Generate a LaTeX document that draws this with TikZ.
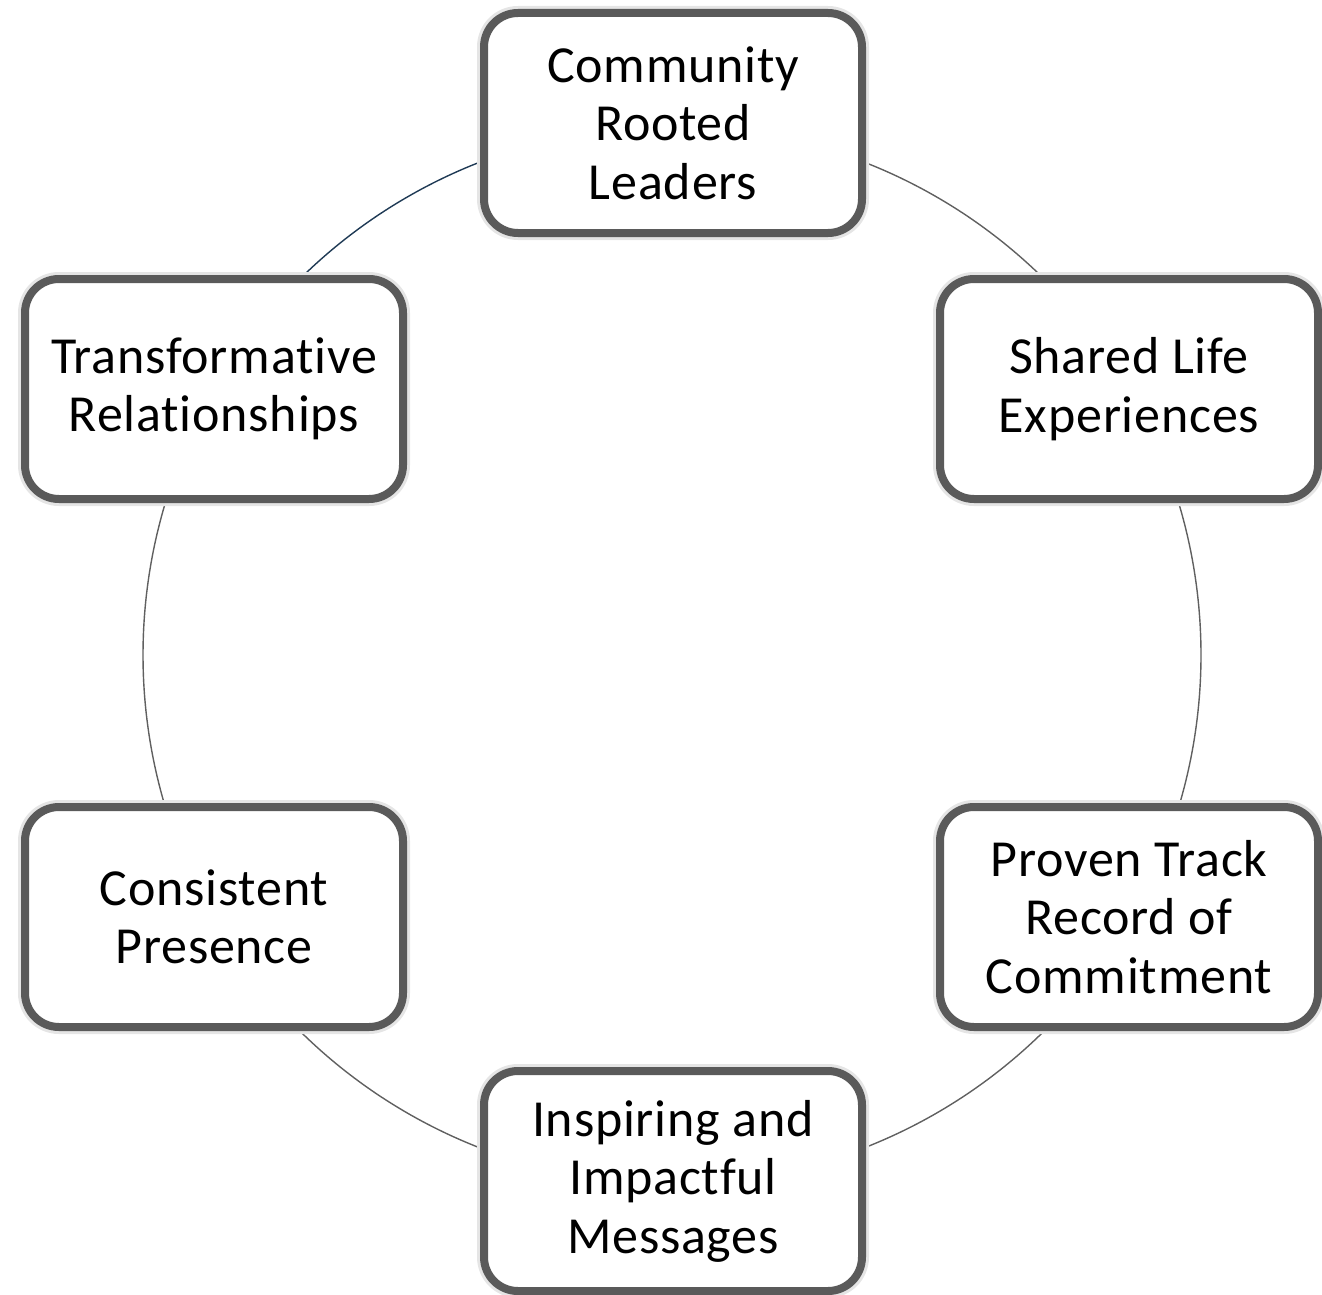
\documentclass[tikz,border=0pt]{standalone}
\usepackage{fontspec}
\setmainfont{Carlito}[Ligatures=NoCommon, LetterSpace=1.5]
\definecolor{boxline}{HTML}{5A5A5A}
\definecolor{ringgray}{HTML}{606060}
\definecolor{ringnavy}{HTML}{1F3A55}
\begin{document}
\begin{tikzpicture}[x=1pt,y=-1pt,
  item/.style={draw=boxline, line width=8pt, fill=white, rounded corners=34pt,
    minimum width=378pt, minimum height=220pt, align=center, inner sep=0pt,
    font=\fontsize{52}{58.5}\selectfont, text=black,
    preaction={draw=black!10, line width=14pt}},
  ring/.style={draw=ringgray, line width=1.4pt}]
\useasboundingbox (0,0) rectangle (1322,1295);
\coordinate (c) at (672,655);
\draw[ring] (c) ++(90:-529) arc (-90:-30:529);
\draw[ring] (c) ++(-30:529) arc (-30:30:529);
\draw[ring] (c) ++(30:529) arc (30:90:529);
\draw[ring] (c) ++(90:529) arc (90:150:529);
\draw[ring] (c) ++(150:529) arc (150:210:529);
\draw[ring, draw=ringnavy] (c) ++(210:529) arc (210:270:529);
\node[item] (top) at (673,123) {Community\\Rooted\\Leaders};
\node[item] (rt) at (1129,389) {Shared Life\\Experiences};
\node[item] (rb) at (1129,917) {Proven Track\\Record of\\Commitment};
\node[item] (bot) at (673,1181) {Inspiring and\\Impactful\\Messages};
\node[item] (lb) at (214,917) {Consistent\\Presence};
\node[item] (lt) at (214,389) {Transformative\\Relationships};
\end{tikzpicture}
\end{document}
